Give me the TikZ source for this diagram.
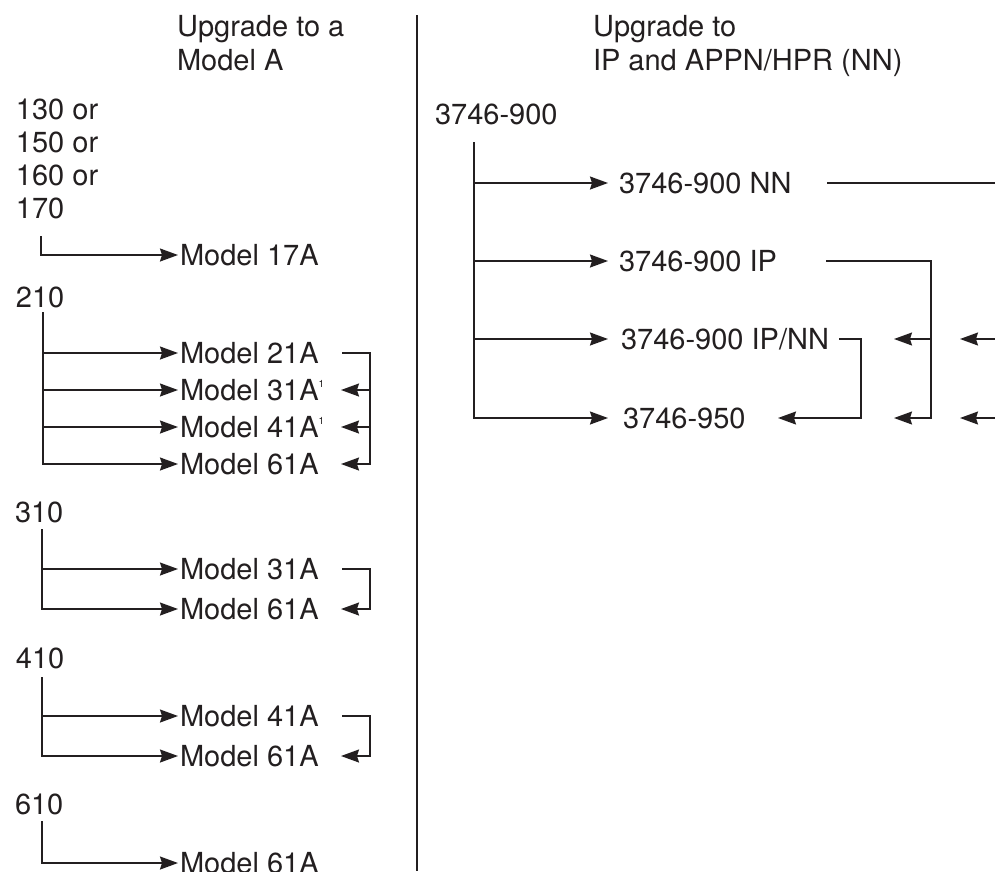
\documentclass[tikz,border=0pt]{standalone}
\usepackage{fontspec}
\setmainfont{TeX Gyre Heros}
\usetikzlibrary{arrows.meta}
\definecolor{ink}{RGB}{35,31,32}
\newcommand{\fnote}{\raisebox{12.5pt}{\fontsize{10}{10}\selectfont 1}}
\begin{document}
\begin{tikzpicture}[x=1pt,y=-1pt,
  lbl/.style={anchor=base west,inner sep=0pt,outer sep=0pt,font=\fontsize{29}{34}\selectfont,text=ink},
  ln/.style={draw=ink,line width=1.4pt},
  arr/.style={ln,-{Stealth[length=18pt,width=13pt,inset=2pt]}},
  divider/.style={draw=ink,line width=1.2pt}
]
\useasboundingbox (0,0) rectangle (995,871);
\fill[white] (0,0) rectangle (995,871);

% ---------------- left column ----------------
\node[lbl] (h1a) at (177,36) {Upgrade to a};
\node[lbl] (h1b) at (177,70) {Model A};

\node[lbl] (s130) at (16,119) {130 or};
\node[lbl] (s150) at (16,152) {150 or};
\node[lbl] (s160) at (16,185) {160 or};
\node[lbl] (s170) at (16,218) {170};
\coordinate (t170) at (41,236);
\coordinate (a17) at (178,255);
\node[lbl] (m17) at (180,265.4) {Model 17A};
\draw[arr] (t170) |- (a17);

% 210
\node[lbl] (s210) at (16,307) {210};
\coordinate (t210) at (43,312);
\coordinate (a21) at (178,353);
\coordinate (a31) at (178,390);
\coordinate (a41) at (178,427);
\coordinate (a61) at (178,464);
\node[lbl] (m21) at (180,363.4) {Model 21A};
\node[lbl] (m31) at (180,400.4) {Model 31A\fnote};
\node[lbl] (m41) at (180,437.4) {Model 41A\fnote};
\node[lbl] (m61) at (180,474.4) {Model 61A};
\draw[arr] (t210) |- (a21);
\draw[arr] (t210) |- (a31);
\draw[arr] (t210) |- (a41);
\draw[arr] (t210) |- (a61);
\coordinate (b21) at (342,353);
\coordinate (k31) at (370,390);
\coordinate (k41) at (370,427);
\coordinate (e31) at (341,390);
\coordinate (e41) at (341,427);
\coordinate (e61) at (341,464);
\draw[arr] (b21) -| (e61 -| k31) -- (e61);
\draw[arr] (k31) -- (e31);
\draw[arr] (k41) -- (e41);

% 310
\node[lbl] (s310) at (15,522) {310};
\coordinate (t310) at (42,529);
\coordinate (a31b) at (178,569);
\coordinate (a61b) at (178,609);
\node[lbl] (m31b) at (180,579.4) {Model 31A};
\node[lbl] (m61b) at (180,619.4) {Model 61A};
\draw[arr] (t310) |- (a31b);
\draw[arr] (t310) |- (a61b);
\coordinate (b31b) at (342,569);
\coordinate (e61b) at (341,609);
\draw[arr] (b31b) -| (370,609) -- (e61b);

% 410
\node[lbl] (s410) at (16,668) {410};
\coordinate (t410) at (42,677);
\coordinate (a41c) at (178,716);
\coordinate (a61c) at (178,756);
\node[lbl] (m41c) at (180,726.4) {Model 41A};
\node[lbl] (m61c) at (180,766.4) {Model 61A};
\draw[arr] (t410) |- (a41c);
\draw[arr] (t410) |- (a61c);
\coordinate (b41c) at (342,716);
\coordinate (e61c) at (341,756);
\draw[arr] (b41c) -| (370,756) -- (e61c);

% 610
\node[lbl] (s610) at (15,814) {610};
\coordinate (t610) at (42,821);
\coordinate (a61d) at (178,863);
\node[lbl] (m61d) at (180,873.4) {Model 61A};
\draw[arr] (t610) |- (a61d);

% ---------------- divider ----------------
\coordinate (dvt) at (417,15);
\coordinate (dvb) at (417,871);
\draw[divider] (dvt) -- (dvb);

% ---------------- right column ----------------
\node[lbl] (h2a) at (593,36) {Upgrade to};
\node[lbl] (h2b) at (593,70) {IP and APPN/HPR (NN)};

\node[lbl] (r900) at (435,124) {3746-900};
\coordinate (t900) at (474,142);
\coordinate (aNN) at (608,183);
\coordinate (aIP) at (608,261);
\coordinate (aIPNN) at (608,339);
\coordinate (a950) at (608,418);
\node[lbl] (rNN) at (619,193.4) {3746-900 NN};
\node[lbl] (rIP) at (619,271.4) {3746-900 IP};
\node[lbl] (rIPNN) at (621,349.4) {3746-900 IP/NN};
\node[lbl] (r950) at (623,428.4) {3746-950};
\draw[arr] (t900) |- (aNN);
\draw[arr] (t900) |- (aIP);
\draw[arr] (t900) |- (aIPNN);
\draw[arr] (t900) |- (a950);

% NN line running off the right edge
\coordinate (oNN) at (827,183);
\coordinate (xNN) at (995,183);
\draw[ln] (oNN) -- (xNN);

% IP bracket
\coordinate (oIP) at (826,261);
\coordinate (kIP1) at (931,339);
\coordinate (kIP2) at (931,418);
\coordinate (eIP1) at (894,339);
\coordinate (eIP2) at (894,418);
\draw[arr] (oIP) -| (kIP2) -- (eIP2);
\draw[arr] (kIP1) -- (eIP1);

% IP/NN bracket
\coordinate (oIPNN) at (839,339);
\coordinate (e950) at (778,418);
\draw[arr] (oIPNN) -| (861,418) -- (e950);

% arrows entering from the right edge
\coordinate (xR1) at (995,339);
\coordinate (xR2) at (995,418);
\coordinate (eR1) at (960,339);
\coordinate (eR2) at (960,418);
\draw[arr] (xR1) -- (eR1);
\draw[arr] (xR2) -- (eR2);
\end{tikzpicture}
\end{document}
